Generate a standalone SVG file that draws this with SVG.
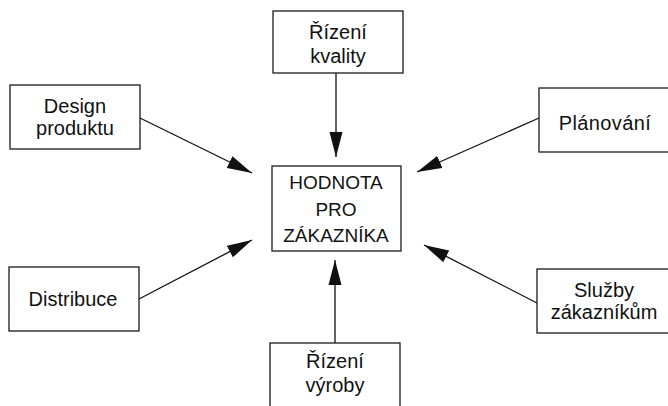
<svg xmlns="http://www.w3.org/2000/svg" width="668" height="406" viewBox="0 0 668 406">
  <style>
    .box { fill: #ffffff; stroke: #1a1a1a; stroke-width: 1.3; }
    .lbl { font-family: "Liberation Sans", Arial, sans-serif; font-size: 20px; fill: #111111; text-anchor: middle; }
    .ctr { font-size: 19px; }
    .conn { stroke: #111111; stroke-width: 1.3; fill: none; marker-end: url(#arrow); }
  </style>
  <defs>
    <marker id="arrow" markerUnits="userSpaceOnUse" viewBox="0 0 25 14" markerWidth="25" markerHeight="14" refX="25" refY="7" orient="auto">
      <path d="M0,0.5 L25,7 L0,13.5 z" fill="#111111"/>
    </marker>
  </defs>
  <rect x="0" y="0" width="668" height="406" fill="#ffffff"/>

  <g id="connectors">
    <line class="conn" x1="336" y1="73" x2="336" y2="157"/>
    <line class="conn" x1="140" y1="118" x2="252" y2="173"/>
    <line class="conn" x1="539" y1="118" x2="417" y2="172"/>
    <line class="conn" x1="139" y1="299" x2="252" y2="240"/>
    <line class="conn" x1="537" y1="303" x2="424" y2="245"/>
    <line class="conn" x1="335" y1="343" x2="335" y2="260"/>
  </g>

  <g id="rizeni-kvality">
    <rect class="box" x="273" y="11" width="130" height="62"/>
    <text class="lbl" x="338" y="39">Řízení</text>
    <text class="lbl" x="338" y="63">kvality</text>
  </g>

  <g id="design-produktu">
    <rect class="box" x="10" y="85" width="130" height="64"/>
    <text class="lbl" x="75" y="113">Design</text>
    <text class="lbl" x="75" y="135">produktu</text>
  </g>

  <g id="planovani">
    <rect class="box" x="539" y="88" width="135" height="64"/>
    <text class="lbl" x="605" y="130" letter-spacing="0.4">Plánování</text>
  </g>

  <g id="hodnota">
    <rect class="box" x="272" y="166" width="129" height="85"/>
    <text class="lbl ctr" x="336" y="189">HODNOTA</text>
    <text class="lbl ctr" x="336" y="216">PRO</text>
    <text class="lbl ctr" x="336" y="242">ZÁKAZNÍKA</text>
  </g>

  <g id="distribuce">
    <rect class="box" x="9" y="267" width="130" height="64"/>
    <text class="lbl" x="73" y="306">Distribuce</text>
  </g>

  <g id="sluzby-zakaznikum">
    <rect class="box" x="537" y="269" width="137" height="64"/>
    <text class="lbl" x="604" y="297">Služby</text>
    <text class="lbl" x="604" y="319">zákazníkům</text>
  </g>

  <g id="rizeni-vyroby">
    <rect class="box" x="270" y="343" width="130" height="70"/>
    <text class="lbl" x="335" y="368">Řízení</text>
    <text class="lbl" x="335" y="392">výroby</text>
  </g>
</svg>
